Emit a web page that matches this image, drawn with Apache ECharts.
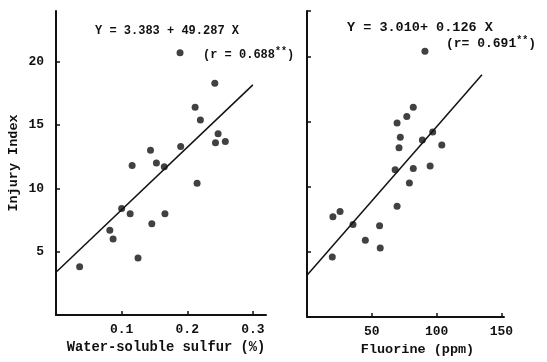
<!DOCTYPE html>
<html>
<head>
<meta charset="utf-8">
<script src="https://cdn.jsdelivr.net/npm/echarts@6/dist/echarts.min.js"></script>
<style>
  html, body { margin: 0; padding: 0; background: #fff; }
  #chart { width: 547px; height: 362px; }
</style>
</head>
<body>
<div id="chart"></div>
<script>
// Left panel: water-soluble sulfur (%) vs injury index
const sulfurPoints = [
  [0.189, 20.7], [0.242, 18.3], [0.212, 16.4], [0.220, 15.4], [0.247, 14.3],
  [0.243, 13.6], [0.258, 13.7], [0.190, 13.3], [0.144, 13.0], [0.153, 12.0],
  [0.165, 11.7], [0.116, 11.8], [0.215, 10.4], [0.100, 8.4], [0.113, 8.0],
  [0.166, 8.0], [0.146, 7.2], [0.082, 6.7], [0.087, 6.0], [0.125, 4.5],
  [0.036, 3.8]
];
const sulfurFit = [[0, 3.38], [0.30, 18.17]];

// Right panel: fluorine (ppm) vs injury index
const fluorinePoints = [
  [91, 20.4], [82, 16.1], [77, 15.4], [69.5, 14.9], [72, 13.8],
  [97, 14.2], [89, 13.6], [71, 13.0], [104, 13.2], [68, 11.3],
  [82, 11.4], [95, 11.6], [79, 10.3], [69.5, 8.5], [20, 7.7],
  [25.5, 8.1], [35.5, 7.1], [56, 7.0], [45, 5.9], [56.5, 5.3],
  [19.5, 4.6]
];
const fluorineFit = [[0, 3.2], [135, 18.6]];

const yAxisTitle = 'Injury Index';
const xTitles = ['Water-soluble sulfur (%)', 'Fluorine (ppm)'];
const equations = ['Y = 3.383 + 49.287 X', 'Y = 3.010+ 0.126 X'];
const rValues = ['(r = 0.688', '(r= 0.691'];

const font = '"Liberation Mono", "DejaVu Sans Mono", monospace';
const ink = '#111';

const chart = echarts.init(document.getElementById('chart'));

const axisCommon = {
  axisLine: { show: true, onZero: false, lineStyle: { color: ink, width: 2 } },
  axisTick: { show: true, inside: true, length: 4, lineStyle: { color: ink, width: 1.5 } },
  splitLine: { show: false },
  axisLabel: {
    color: ink, fontFamily: font, fontSize: 13, fontWeight: 'bold',
    showMinLabel: false, showMaxLabel: false
  },
  nameTextStyle: { color: ink, fontFamily: font, fontSize: 13.5, fontWeight: 'bold' }
};

const eqText = (text, x, y, size) => ({
  type: 'text', left: x, top: y,
  style: { text: text, fill: ink, font: 'bold ' + size + 'px ' + font }
});
const rText = (text, x, y, size) => ({
  type: 'text', left: x, top: y,
  style: {
    text: '{a|' + text + '}{s|**}{a|)}',
    rich: {
      a: { fill: ink, font: 'bold ' + size + 'px ' + font },
      s: { fill: ink, font: 'bold 10px ' + font, verticalAlign: 'top', padding: [0, 0, 8, 0] }
    }
  }
});

chart.setOption({
  backgroundColor: '#fff',
  animation: false,
  grid: [
    { left: 56, top: 11, width: 210, height: 304 },
    { left: 307, top: 11, width: 197, height: 308 }
  ],
  xAxis: [
    Object.assign({}, axisCommon, {
      gridIndex: 0, type: 'value', min: 0, max: 0.32, interval: 0.1,
      name: xTitles[0], nameLocation: 'middle', nameGap: 26,
      nameTextStyle: Object.assign({}, axisCommon.nameTextStyle, { fontSize: 13.8, padding: [0, 0, 0, 10] }),
      axisLabel: Object.assign({}, axisCommon.axisLabel, { margin: 8 })
    }),
    Object.assign({}, axisCommon, {
      gridIndex: 1, type: 'value', min: 0, max: 152, interval: 50,
      name: xTitles[1], nameLocation: 'middle', nameGap: 26,
      nameTextStyle: Object.assign({}, axisCommon.nameTextStyle, { padding: [0, 0, 0, 24] }),
      axisLabel: Object.assign({}, axisCommon.axisLabel, { margin: 8 })
    })
  ],
  yAxis: [
    Object.assign({}, axisCommon, {
      gridIndex: 0, type: 'value', min: 0, max: 24, interval: 5,
      name: yAxisTitle, nameLocation: 'middle', nameGap: 35, nameRotate: 90,
      axisLabel: Object.assign({}, axisCommon.axisLabel, { margin: 12 })
    }),
    Object.assign({}, axisCommon, {
      gridIndex: 1, type: 'value', min: 0, max: 23.5, interval: 5,
      axisLabel: { show: false }
    })
  ],
  series: [
    {
      type: 'scatter', xAxisIndex: 0, yAxisIndex: 0, data: sulfurPoints,
      symbolSize: 7, itemStyle: { color: ink }
    },
    {
      type: 'line', xAxisIndex: 0, yAxisIndex: 0, data: sulfurFit,
      showSymbol: false, lineStyle: { color: ink, width: 1.5 }
    },
    {
      type: 'scatter', xAxisIndex: 1, yAxisIndex: 1, data: fluorinePoints,
      symbolSize: 7, itemStyle: { color: ink }
    },
    {
      type: 'line', xAxisIndex: 1, yAxisIndex: 1, data: fluorineFit,
      showSymbol: false, lineStyle: { color: ink, width: 1.5 }
    }
  ],
  graphic: [
    eqText(equations[0], 95, 25, 12),
    rText(rValues[0], 203, 46, 12),
    eqText(equations[1], 347, 21, 13.5),
    rText(rValues[1], 446, 35, 13)
  ]
});
</script>
</body>
</html>
